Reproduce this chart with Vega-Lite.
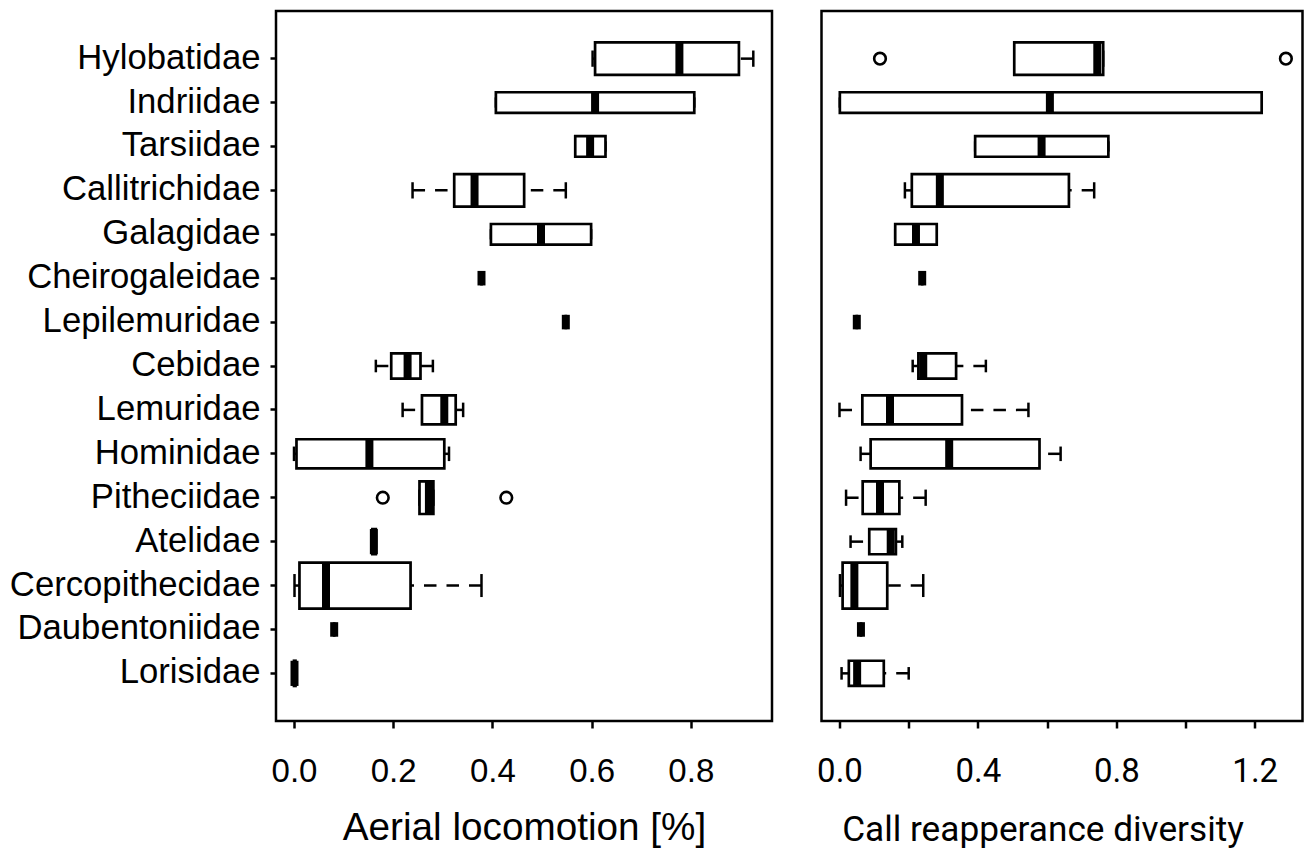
{
  "$schema": "https://vega.github.io/schema/vega-lite/v6.json",
  "padding": {"left": 8, "top": 9, "right": 0, "bottom": 0},
  "autosize": {"type": "pad"},
  "background": "white",
  "bounds": "flush",
  "spacing": 49.5,
  "config": {
    "view": {"stroke": "black", "strokeWidth": 2.5},
    "axis": {"domain": false, "grid": false, "tickColor": "black", "tickWidth": 2.5, "labelColor": "black", "titleColor": "black", "titleFontWeight": "normal", "labelOverlap": false, "labelFlush": false}
  },
  "datasets": {
    "stats": [
      {"panel": "loco", "family": "Hylobatidae", "n": 5, "lo": 0.602, "q1": 0.607, "med": 0.777, "q3": 0.897, "hi": 0.926},
      {"panel": "loco", "family": "Indriidae", "n": 2, "lo": 0.407, "q1": 0.407, "med": 0.607, "q3": 0.807, "hi": 0.807},
      {"panel": "loco", "family": "Tarsiidae", "n": 2, "lo": 0.567, "q1": 0.567, "med": 0.597, "q3": 0.628, "hi": 0.628},
      {"panel": "loco", "family": "Callitrichidae", "n": 5, "lo": 0.239, "q1": 0.323, "med": 0.364, "q3": 0.464, "hi": 0.548},
      {"panel": "loco", "family": "Galagidae", "n": 2, "lo": 0.397, "q1": 0.397, "med": 0.498, "q3": 0.599, "hi": 0.599},
      {"panel": "loco", "family": "Cheirogaleidae", "n": 1, "lo": 0.378, "q1": 0.378, "med": 0.378, "q3": 0.378, "hi": 0.378},
      {"panel": "loco", "family": "Lepilemuridae", "n": 1, "lo": 0.548, "q1": 0.548, "med": 0.548, "q3": 0.548, "hi": 0.548},
      {"panel": "loco", "family": "Cebidae", "n": 3, "lo": 0.165, "q1": 0.196, "med": 0.229, "q3": 0.255, "hi": 0.28},
      {"panel": "loco", "family": "Lemuridae", "n": 4, "lo": 0.219, "q1": 0.258, "med": 0.303, "q3": 0.326, "hi": 0.341},
      {"panel": "loco", "family": "Hominidae", "n": 4, "lo": 0.0, "q1": 0.005, "med": 0.152, "q3": 0.303, "hi": 0.3125},
      {"panel": "loco", "family": "Pitheciidae", "n": 5, "lo": 0.253, "q1": 0.253, "med": 0.272, "q3": 0.281, "hi": 0.281},
      {"panel": "loco", "family": "Atelidae", "n": 3, "lo": 0.158, "q1": 0.158, "med": 0.161, "q3": 0.165, "hi": 0.165},
      {"panel": "loco", "family": "Cercopithecidae", "n": 10, "lo": 0.001, "q1": 0.011, "med": 0.0645, "q3": 0.235, "hi": 0.378},
      {"panel": "loco", "family": "Daubentoniidae", "n": 1, "lo": 0.081, "q1": 0.081, "med": 0.081, "q3": 0.081, "hi": 0.081},
      {"panel": "loco", "family": "Lorisidae", "n": 3, "lo": 0.0, "q1": 0.0, "med": 0.001, "q3": 0.003, "hi": 0.003},
      {"panel": "call", "family": "Hylobatidae", "n": 5, "lo": 0.505, "q1": 0.505, "med": 0.745, "q3": 0.762, "hi": 0.762},
      {"panel": "call", "family": "Indriidae", "n": 2, "lo": 0.001, "q1": 0.001, "med": 0.608, "q3": 1.22, "hi": 1.22},
      {"panel": "call", "family": "Tarsiidae", "n": 2, "lo": 0.392, "q1": 0.392, "med": 0.584, "q3": 0.777, "hi": 0.777},
      {"panel": "call", "family": "Callitrichidae", "n": 5, "lo": 0.189, "q1": 0.209, "med": 0.29, "q3": 0.663, "hi": 0.736},
      {"panel": "call", "family": "Galagidae", "n": 2, "lo": 0.161, "q1": 0.161, "med": 0.221, "q3": 0.281, "hi": 0.281},
      {"panel": "call", "family": "Cheirogaleidae", "n": 1, "lo": 0.239, "q1": 0.239, "med": 0.239, "q3": 0.239, "hi": 0.239},
      {"panel": "call", "family": "Lepilemuridae", "n": 1, "lo": 0.05, "q1": 0.05, "med": 0.05, "q3": 0.05, "hi": 0.05},
      {"panel": "call", "family": "Cebidae", "n": 3, "lo": 0.2115, "q1": 0.228, "med": 0.242, "q3": 0.337, "hi": 0.423},
      {"panel": "call", "family": "Lemuridae", "n": 4, "lo": 0.0, "q1": 0.066, "med": 0.146, "q3": 0.354, "hi": 0.546},
      {"panel": "call", "family": "Hominidae", "n": 4, "lo": 0.061, "q1": 0.09, "med": 0.317, "q3": 0.578, "hi": 0.639},
      {"panel": "call", "family": "Pitheciidae", "n": 5, "lo": 0.019, "q1": 0.067, "med": 0.117, "q3": 0.173, "hi": 0.249},
      {"panel": "call", "family": "Atelidae", "n": 3, "lo": 0.032, "q1": 0.086, "med": 0.148, "q3": 0.163, "hi": 0.1815},
      {"panel": "call", "family": "Cercopithecidae", "n": 10, "lo": 0.0014, "q1": 0.009, "med": 0.043, "q3": 0.138, "hi": 0.242},
      {"panel": "call", "family": "Daubentoniidae", "n": 1, "lo": 0.062, "q1": 0.062, "med": 0.062, "q3": 0.062, "hi": 0.062},
      {"panel": "call", "family": "Lorisidae", "n": 3, "lo": 0.006, "q1": 0.027, "med": 0.051, "q3": 0.128, "hi": 0.2}
    ],
    "outliers": [
      {"panel": "loco", "family": "Pitheciidae", "value": 0.179},
      {"panel": "loco", "family": "Pitheciidae", "value": 0.428},
      {"panel": "call", "family": "Hylobatidae", "value": 0.117},
      {"panel": "call", "family": "Hylobatidae", "value": 1.29}
    ]
  },
  "hconcat": [
    {
      "width": 496,
      "height": 710,
      "resolve": {"scale": {"size": "independent"}},
      "layer": [
        {
          "data": {"name": "stats"},
          "transform": [{"filter": "datum.panel === 'loco'"}],
          "mark": {"type": "rule", "strokeDash": [12.5, 10], "strokeWidth": 2.5, "color": "black"},
          "encoding": {
            "y": {"field": "family", "type": "nominal", "title": null,
                  "scale": {"type": "band", "domain": ["Hylobatidae","Indriidae","Tarsiidae","Callitrichidae","Galagidae","Cheirogaleidae","Lepilemuridae","Cebidae","Lemuridae","Hominidae","Pitheciidae","Atelidae","Cercopithecidae","Daubentoniidae","Lorisidae"], "paddingInner": 0, "paddingOuter": 0.585},
                  "axis": {"labelFont": "Liberation Sans", "labelFontSize": 34.7, "labelPadding": 10, "tickSize": 6, "labelLimit": 0}},
            "x": {"field": "lo", "type": "quantitative",
                  "scale": {"domain": [-0.0363, 0.9637], "nice": false, "zero": false},
                  "axis": {"values": [0, 0.2, 0.4, 0.6, 0.8], "format": ".1f", "labelFont": "Liberation Sans", "labelFontSize": 33, "labelBaseline": "alphabetic", "labelPadding": 53, "tickSize": 7, "title": "Aerial locomotion [%]", "titleFont": "Liberation Sans", "titleFontSize": 38.7, "titleY": 118, "titleBaseline": "alphabetic"}},
            "x2": {"field": "q1"}
          }
        },
        {
          "data": {"name": "stats"},
          "transform": [{"filter": "datum.panel === 'loco'"}],
          "mark": {"type": "rule", "strokeDash": [12.5, 10], "strokeWidth": 2.5, "color": "black"},
          "encoding": {
            "y": {"field": "family", "type": "nominal", "title": null},
            "x": {"field": "hi", "type": "quantitative", "title": "Aerial locomotion [%]"},
            "x2": {"field": "q3"}
          }
        },
        {
          "data": {"name": "stats"},
          "transform": [{"filter": "datum.panel === 'loco'"}],
          "mark": {"type": "tick", "thickness": 2.5, "color": "black", "opacity": 1},
          "encoding": {
            "y": {"field": "family", "type": "nominal", "title": null},
            "x": {"field": "lo", "type": "quantitative", "title": "Aerial locomotion [%]"},
            "size": {"field": "n", "type": "quantitative", "legend": null, "scale": {"type": "sqrt", "domain": [0, 10], "range": [0, 23]}}
          }
        },
        {
          "data": {"name": "stats"},
          "transform": [{"filter": "datum.panel === 'loco'"}],
          "mark": {"type": "tick", "thickness": 2.5, "color": "black", "opacity": 1},
          "encoding": {
            "y": {"field": "family", "type": "nominal", "title": null},
            "x": {"field": "hi", "type": "quantitative", "title": "Aerial locomotion [%]"},
            "size": {"field": "n", "type": "quantitative", "legend": null, "scale": {"type": "sqrt", "domain": [0, 10], "range": [0, 23]}}
          }
        },
        {
          "data": {"name": "stats"},
          "transform": [{"filter": "datum.panel === 'loco'"}],
          "mark": {"type": "bar", "fill": "white", "stroke": "black", "strokeWidth": 2.7, "opacity": 1},
          "encoding": {
            "y": {"field": "family", "type": "nominal", "title": null},
            "x": {"field": "q1", "type": "quantitative", "title": "Aerial locomotion [%]"},
            "x2": {"field": "q3"},
            "size": {"field": "n", "type": "quantitative", "legend": null, "scale": {"type": "sqrt", "domain": [0, 10], "range": [0, 46]}}
          }
        },
        {
          "data": {"name": "stats"},
          "transform": [{"filter": "datum.panel === 'loco'"}],
          "mark": {"type": "tick", "thickness": 8, "color": "black", "opacity": 1},
          "encoding": {
            "y": {"field": "family", "type": "nominal", "title": null},
            "x": {"field": "med", "type": "quantitative", "title": "Aerial locomotion [%]"},
            "size": {"field": "n", "type": "quantitative", "legend": null, "scale": {"type": "sqrt", "domain": [0, 10], "range": [0, 46]}}
          }
        },
        {
          "data": {"name": "outliers"},
          "transform": [{"filter": "datum.panel === 'loco'"}],
          "mark": {"type": "point", "shape": "circle", "filled": false, "stroke": "black", "strokeWidth": 2.6, "size": 135, "opacity": 1},
          "encoding": {
            "y": {"field": "family", "type": "nominal", "title": null},
            "x": {"field": "value", "type": "quantitative", "title": "Aerial locomotion [%]"}
          }
        }
      ]
    },
    {
      "width": 481,
      "height": 710,
      "resolve": {"scale": {"size": "independent"}},
      "layer": [
        {
          "data": {"name": "stats"},
          "transform": [{"filter": "datum.panel === 'call'"}],
          "mark": {"type": "rule", "strokeDash": [12.5, 10], "strokeWidth": 2.5, "color": "black"},
          "encoding": {
            "y": {"field": "family", "type": "nominal", "title": null,
                  "scale": {"type": "band", "domain": ["Hylobatidae","Indriidae","Tarsiidae","Callitrichidae","Galagidae","Cheirogaleidae","Lepilemuridae","Cebidae","Lemuridae","Hominidae","Pitheciidae","Atelidae","Cercopithecidae","Daubentoniidae","Lorisidae"], "paddingInner": 0, "paddingOuter": 0.585},
                  "axis": null},
            "x": {"field": "lo", "type": "quantitative",
                  "scale": {"domain": [-0.052, 1.338], "nice": false, "zero": false},
                  "axis": {"values": [0, 0.2, 0.4, 0.6, 0.8, 1.0, 1.2], "labelExpr": "round(datum.value * 10) % 4 == 0 ? format(datum.value, '.1f') : ''", "labelFont": "Roboto", "labelFontSize": 33, "labelBaseline": "alphabetic", "labelPadding": 53, "tickSize": 7, "title": "Call reapperance diversity", "titleFont": "Roboto", "titleFontSize": 35.2, "titleX": 221, "titleY": 119, "titleAlign": "center", "titleBaseline": "alphabetic"}},
            "x2": {"field": "q1"}
          }
        },
        {
          "data": {"name": "stats"},
          "transform": [{"filter": "datum.panel === 'call'"}],
          "mark": {"type": "rule", "strokeDash": [12.5, 10], "strokeWidth": 2.5, "color": "black"},
          "encoding": {
            "y": {"field": "family", "type": "nominal", "title": null},
            "x": {"field": "hi", "type": "quantitative", "title": "Call reapperance diversity"},
            "x2": {"field": "q3"}
          }
        },
        {
          "data": {"name": "stats"},
          "transform": [{"filter": "datum.panel === 'call'"}],
          "mark": {"type": "tick", "thickness": 2.5, "color": "black", "opacity": 1},
          "encoding": {
            "y": {"field": "family", "type": "nominal", "title": null},
            "x": {"field": "lo", "type": "quantitative", "title": "Call reapperance diversity"},
            "size": {"field": "n", "type": "quantitative", "legend": null, "scale": {"type": "sqrt", "domain": [0, 10], "range": [0, 23]}}
          }
        },
        {
          "data": {"name": "stats"},
          "transform": [{"filter": "datum.panel === 'call'"}],
          "mark": {"type": "tick", "thickness": 2.5, "color": "black", "opacity": 1},
          "encoding": {
            "y": {"field": "family", "type": "nominal", "title": null},
            "x": {"field": "hi", "type": "quantitative", "title": "Call reapperance diversity"},
            "size": {"field": "n", "type": "quantitative", "legend": null, "scale": {"type": "sqrt", "domain": [0, 10], "range": [0, 23]}}
          }
        },
        {
          "data": {"name": "stats"},
          "transform": [{"filter": "datum.panel === 'call'"}],
          "mark": {"type": "bar", "fill": "white", "stroke": "black", "strokeWidth": 2.7, "opacity": 1},
          "encoding": {
            "y": {"field": "family", "type": "nominal", "title": null},
            "x": {"field": "q1", "type": "quantitative", "title": "Call reapperance diversity"},
            "x2": {"field": "q3"},
            "size": {"field": "n", "type": "quantitative", "legend": null, "scale": {"type": "sqrt", "domain": [0, 10], "range": [0, 46]}}
          }
        },
        {
          "data": {"name": "stats"},
          "transform": [{"filter": "datum.panel === 'call'"}],
          "mark": {"type": "tick", "thickness": 8, "color": "black", "opacity": 1},
          "encoding": {
            "y": {"field": "family", "type": "nominal", "title": null},
            "x": {"field": "med", "type": "quantitative", "title": "Call reapperance diversity"},
            "size": {"field": "n", "type": "quantitative", "legend": null, "scale": {"type": "sqrt", "domain": [0, 10], "range": [0, 46]}}
          }
        },
        {
          "data": {"name": "outliers"},
          "transform": [{"filter": "datum.panel === 'call'"}],
          "mark": {"type": "point", "shape": "circle", "filled": false, "stroke": "black", "strokeWidth": 2.6, "size": 135, "opacity": 1},
          "encoding": {
            "y": {"field": "family", "type": "nominal", "title": null},
            "x": {"field": "value", "type": "quantitative", "title": "Call reapperance diversity"}
          }
        }
      ]
    }
  ]
}
